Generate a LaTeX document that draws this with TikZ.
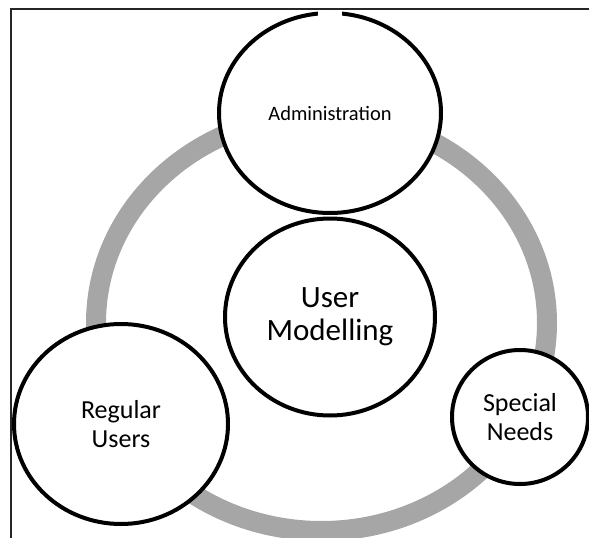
\documentclass[tikz,border=0pt]{standalone}
\usepackage{fontspec}
\setmainfont{Carlito}
\usetikzlibrary{shapes.geometric}
\tikzset{
  bubble/.style={ellipse, draw=black, line width=4pt, fill=white, inner sep=0pt, align=center, text=black},
  ringline/.style={draw=black!35, line width=20pt},
  framel/.style={draw=black!85, line width=1.5pt}
}
\begin{document}
\begin{tikzpicture}[x=1pt,y=-1pt]
\useasboundingbox (0,0) rectangle (589,538);
% cycle ring
\draw[ringline] (321.5,323) ellipse [x radius=225.5, y radius=208];
% frame
\coordinate (ftl) at (11,9);
\coordinate (ftr) at (589,9);
\coordinate (fbl) at (11,538);
\draw[framel] (ftr) -- (ftl) -- (fbl);
% nodes
\node[bubble, minimum width=222pt, minimum height=200pt, font=\fontsize{20.5}{24}\selectfont] (adm) at (330,113) {Administration};
\fill[white] (318,10.8) rectangle (342,17.5);
\node[bubble, minimum width=210pt, minimum height=197pt, font=\fontsize{31}{33}\selectfont] (um) at (330,317) {User\\Modelling};
\node[bubble, minimum width=214pt, minimum height=200pt, font=\fontsize{26}{29.5}\selectfont] (reg) at (121,424) {Regular\\Users};
\node[bubble, minimum width=136pt, minimum height=134pt, font=\fontsize{26}{28.5}\selectfont] (sn) at (520,417) {Special\\Needs};
\end{tikzpicture}
\end{document}
